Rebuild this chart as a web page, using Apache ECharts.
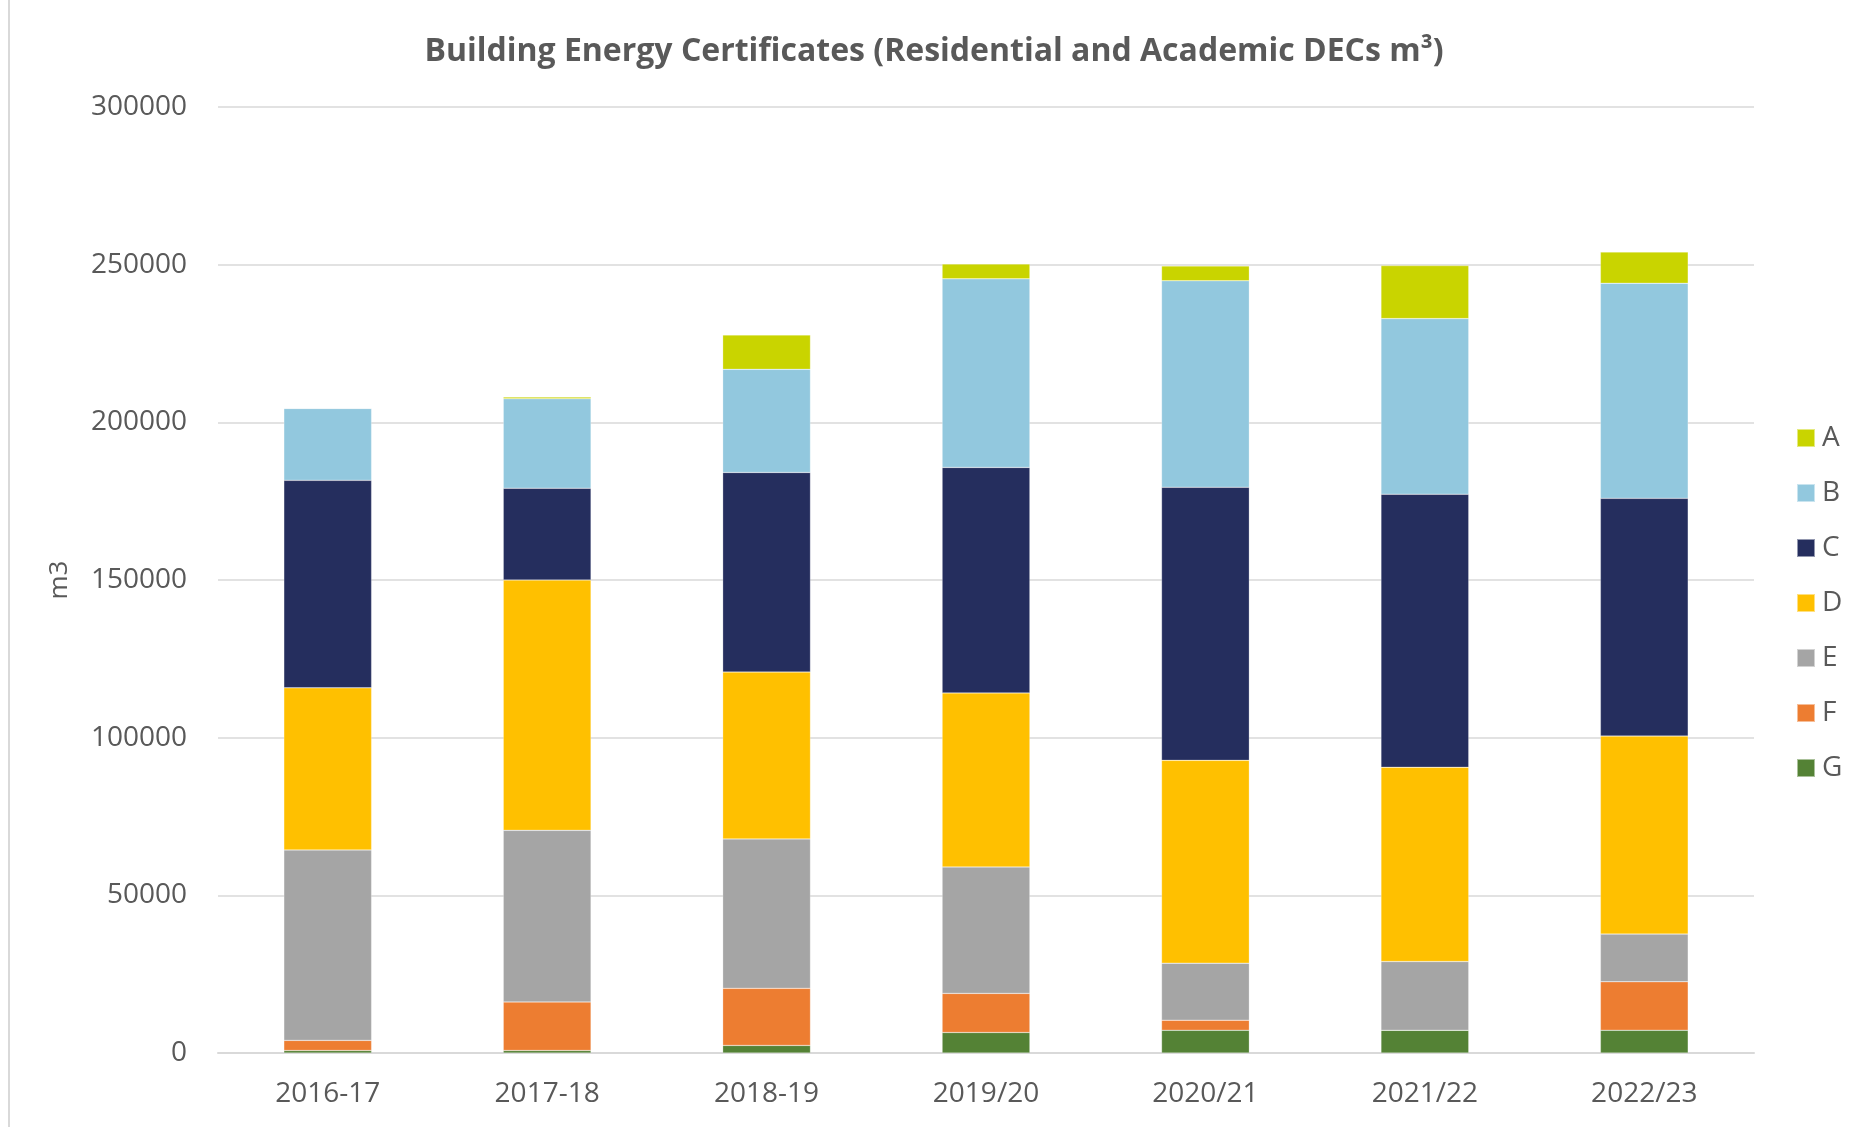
<!DOCTYPE html>
<html lang="en">
<head>
  <meta charset="UTF-8">
  <script src="https://cdn.jsdelivr.net/npm/echarts@6/dist/echarts.min.js"></script>
  <title>Building Energy Certificates</title>
  <style>
    html, body { margin: 0; padding: 0; background: #fff; }
    #chart { width: 1868px; height: 1127px; }
  </style>
</head>
<body>
  <div id="chart"></div>
  <script>
    // years on the x axis
    const years = ['2016-17', '2017-18', '2018-19', '2019/20', '2020/21', '2021/22', '2022/23'];

    // DEC rating bands, m3 per year
    const bandA = [0, 500, 10900, 4700, 4700, 16800, 9900];
    const bandB = [22800, 28400, 32700, 59800, 65500, 55700, 68200];
    const bandC = [65800, 29100, 63300, 71500, 86600, 86600, 75400];
    const bandD = [51400, 79400, 52900, 55200, 64300, 61600, 62800];
    const bandE = [60400, 54400, 47400, 40100, 18100, 21800, 15100];
    const bandF = [3200, 15400, 18100, 12400, 3200, 0, 15400];
    const bandG = [800, 800, 2400, 6500, 7200, 7200, 7200];

    const yTicks = { min: 0, max: 300000, step: 50000 };

    const colours = {
      A: '#c9d400', B: '#92c8de', C: '#252e5e', D: '#ffc000',
      E: '#a5a5a5', F: '#ed7d31', G: '#548235'
    };

    const font = '"Open Sans", "Noto Sans", sans-serif';
    const textGrey = '#595959';

    function band(name, values) {
      return {
        name: name,
        type: 'bar',
        stack: 'total',
        barWidth: '40%',
        data: values,
        itemStyle: { color: colours[name], borderColor: 'rgba(255,255,255,0.5)', borderWidth: 0.5 },
        emphasis: { disabled: true }
      };
    }

    const chart = echarts.init(document.getElementById('chart'));

    chart.setOption({
      animation: false,
      backgroundColor: '#fff',
      textStyle: { fontFamily: font },
      title: {
        text: 'Building Energy Certificates (Residential and Academic DECs m\u00b3)',
        left: 'center',
        top: 31,
        textStyle: { fontFamily: font, fontSize: 32, fontWeight: 'bold', color: textGrey }
      },
      legend: {
        orient: 'vertical',
        left: 1791,
        top: 419,
        itemWidth: 18,
        itemHeight: 18,
        itemGap: 27,
        icon: 'rect',
        data: ['A', 'B', 'C', 'D', 'E', 'F', 'G'],
        textStyle: { fontFamily: font, fontSize: 28, color: textGrey, padding: [0, 0, 0, 2] }
      },
      grid: { left: 218, right: 114, top: 107, bottom: 74 },
      xAxis: {
        type: 'category',
        data: years,
        axisTick: { show: false },
        axisLine: { lineStyle: { color: '#d9d9d9', width: 2 } },
        axisLabel: { fontFamily: font, fontSize: 28, color: textGrey, margin: 27 }
      },
      yAxis: {
        type: 'value',
        min: yTicks.min,
        max: yTicks.max,
        interval: yTicks.step,
        name: 'm3',
        nameLocation: 'middle',
        nameGap: 145,
        nameRotate: 90,
        nameTextStyle: { fontFamily: font, fontSize: 26, color: textGrey },
        axisLine: { show: false },
        axisTick: { show: false },
        axisLabel: {
          fontFamily: font, fontSize: 28, color: textGrey, margin: 31,
          formatter: function (v) { return String(v); }
        },
        splitLine: { lineStyle: { color: '#d9d9d9', width: 1.5 } }
      },
      graphic: [{
        type: 'line',
        shape: { x1: 9, y1: 0, x2: 9, y2: 1127 },
        style: { stroke: '#d9d9d9', lineWidth: 2 }
      }],
      series: [
        band('G', bandG),
        band('F', bandF),
        band('E', bandE),
        band('D', bandD),
        band('C', bandC),
        band('B', bandB),
        band('A', bandA)
      ]
    });
  </script>
</body>
</html>
